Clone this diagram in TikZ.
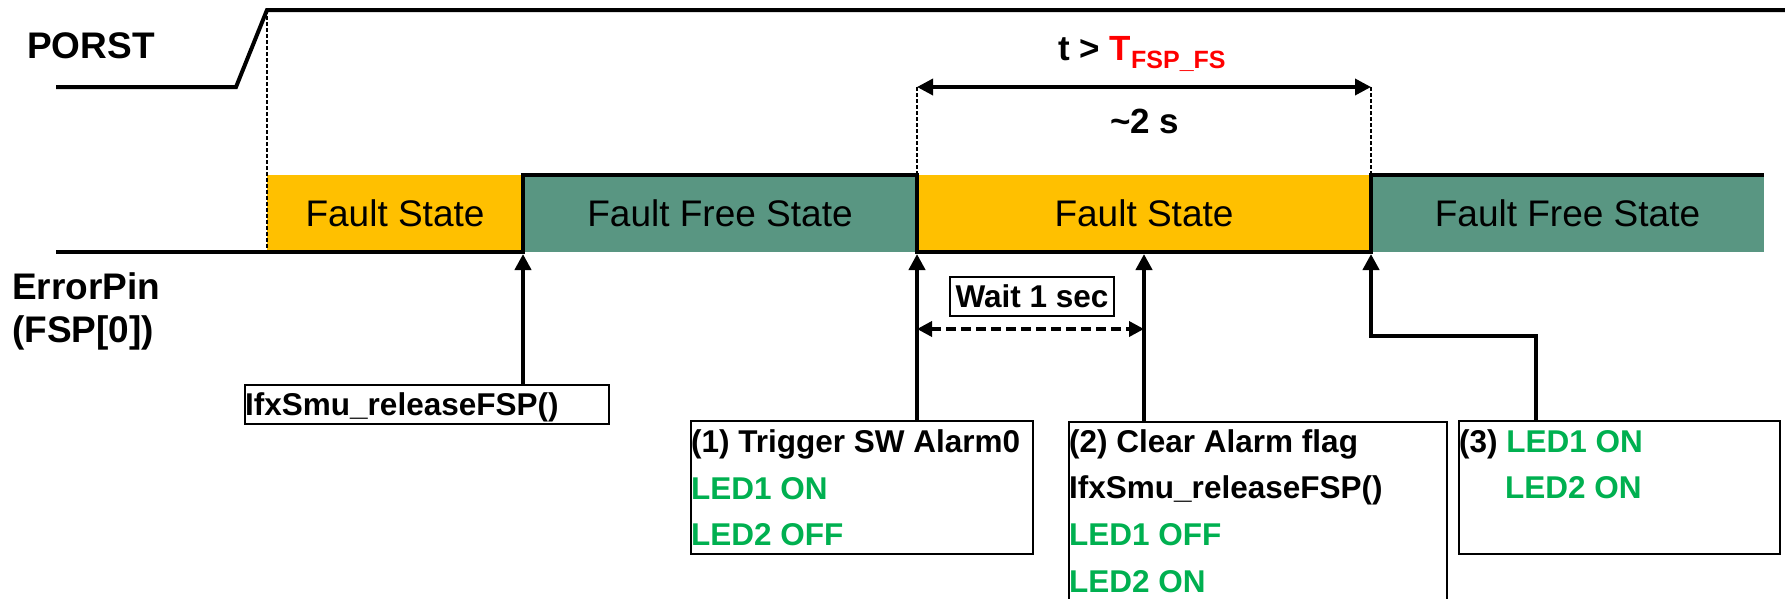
\documentclass[tikz,border=0pt]{standalone}
\usepackage{fontspec}
\setmainfont{Liberation Sans}
\usetikzlibrary{arrows.meta,calc}
\definecolor{fsorange}{RGB}{255,192,0}
\definecolor{ffgreen}{RGB}{89,150,130}
\definecolor{ledgreen}{RGB}{0,176,80}
\definecolor{tred}{RGB}{255,0,0}
\begin{document}
\begin{tikzpicture}[x=1pt,y=-1pt,
  sig/.style={line width=4pt, line join=miter},
  guide/.style={line width=1.2pt, dash pattern=on 4pt off 2pt},
  state/.style={inner sep=0pt, minimum height=77pt, font=\fontsize{37}{37}\selectfont},
  faultst/.style={state, fill=fsorange},
  freest/.style={state, fill=ffgreen},
  lbl/.style={inner sep=0pt, anchor=base west, font=\fontsize{37}{40}\selectfont\bfseries},
  biglbl/.style={inner sep=0pt, anchor=base west, font=\fontsize{35}{40}\selectfont\bfseries},
  boxtxt/.style={inner sep=0pt, anchor=base west, font=\fontsize{31.5}{36}\selectfont\bfseries},
  ledtxt/.style={boxtxt, text=ledgreen},
  infobox/.style={draw, line width=2pt, inner sep=0pt, anchor=north west},
  evarrow/.style={line width=4pt, -{Triangle[length=16pt,width=16pt]}},
  dimarrow/.style={line width=3.5pt, {Triangle[length=16pt,width=16pt]}-{Triangle[length=16pt,width=16pt]}},
  waitarrow/.style={line width=3.5pt, dash pattern=on 10pt off 5pt, {Triangle[length=15pt,width=15pt]}-{Triangle[length=15pt,width=15pt]}},
]
\useasboundingbox (0,0) rectangle (1785,598);

% state bars
\node[faultst, minimum width=256pt] (st1) at (395,213.5) {Fault State};
\node[freest, minimum width=394pt] (st2) at (720,213.5) {Fault Free State};
\node[faultst, minimum width=454pt] (st3) at (1144,213.5) {Fault State};
\node[freest, minimum width=393pt] (st4) at (1567.5,213.5) {Fault Free State};

% labels
\node[lbl] (porst) at (27,58) {PORST};
\node[lbl] (ep1) at (12,299) {ErrorPin};
\node[lbl] (ep2) at (12,342) {(FSP[0])};

% key points
\coordinate (e1) at (523,254);
\coordinate (e2) at (917,254);
\coordinate (e3) at (1144,254);
\coordinate (e4) at (1371,254);
\coordinate (t1) at (917,87);
\coordinate (t2) at (1371,87);
\coordinate (k3) at (1536,336);
\coordinate (wy) at (1000,329);

% waveforms
\draw[sig] (56,87) -- (236,87) -- (267,10) -- (1785,10);
\draw[sig] (56,252) -- (523,252) -- (523,175) -- (917,175) -- (917,252) -- (1371,252) -- (1371,175) -- (1764,175);

% guides
\draw[guide] (267,10) -- (267,252);
\draw[guide] (t1) -- (917,175);
\draw[guide] (t2) -- (1371,175);

% timing
\draw[dimarrow] (t1) -- (t2);
\node[biglbl] (tfs) at (1058,60) {t > \textcolor{tred}{T\raisebox{-8pt}{\fontsize{25}{25}\selectfont FSP\_FS}}};
\node[biglbl] (two) at (1110,133) {\textasciitilde 2 s};

% boxes
\node[infobox, minimum width=364pt, minimum height=39pt] (b0) at (244,384) {};
\node[boxtxt] (b0t) at ($(b0.north west)+(1,31)$) {IfxSmu\_releaseFSP()};

\node[infobox, minimum width=342pt, minimum height=133pt] (b1) at (690,420) {};
\node[boxtxt] (b1a) at ($(b1.north west)+(1,32)$) {(1) Trigger SW Alarm0};
\node[ledtxt] (b1b) at ($(b1.north west)+(1,79)$) {LED1 ON};
\node[ledtxt] (b1c) at ($(b1.north west)+(1,125)$) {LED2 OFF};

\node[infobox, minimum width=378pt, minimum height=200pt] (b2) at (1068,421) {};
\node[boxtxt] (b2a) at ($(b2.north west)+(1,31)$) {(2) Clear Alarm flag};
\node[boxtxt] (b2b) at ($(b2.north west)+(1,77)$) {IfxSmu\_releaseFSP()};
\node[ledtxt] (b2c) at ($(b2.north west)+(1,124)$) {LED1 OFF};
\node[ledtxt] (b2d) at ($(b2.north west)+(1,171)$) {LED2 ON};

\node[infobox, minimum width=321pt, minimum height=133pt] (b3) at (1458,420) {};
\node[boxtxt] (b3a) at ($(b3.north west)+(1,32)$) {(3) \textcolor{ledgreen}{LED1 ON}};
\node[ledtxt] (b3b) at ($(b3.north west)+(47,78)$) {LED2 ON};

\node[infobox, minimum width=164pt, minimum height=39pt, font=\fontsize{31.5}{36}\selectfont\bfseries] (bw) at (949,276) {Wait 1 sec};

% event arrows
\draw[evarrow] (b0.north -| e1) -- (e1);
\draw[evarrow] (b1.north -| e2) -- (e2);
\draw[evarrow] (b2.north -| e3) -- (e3);
\draw[evarrow] (b3.north -| k3) -- (k3) -- (k3 -| e4) -- (e4);
\draw[waitarrow] (wy -| e2) -- (wy -| e3);
\end{tikzpicture}
\end{document}
